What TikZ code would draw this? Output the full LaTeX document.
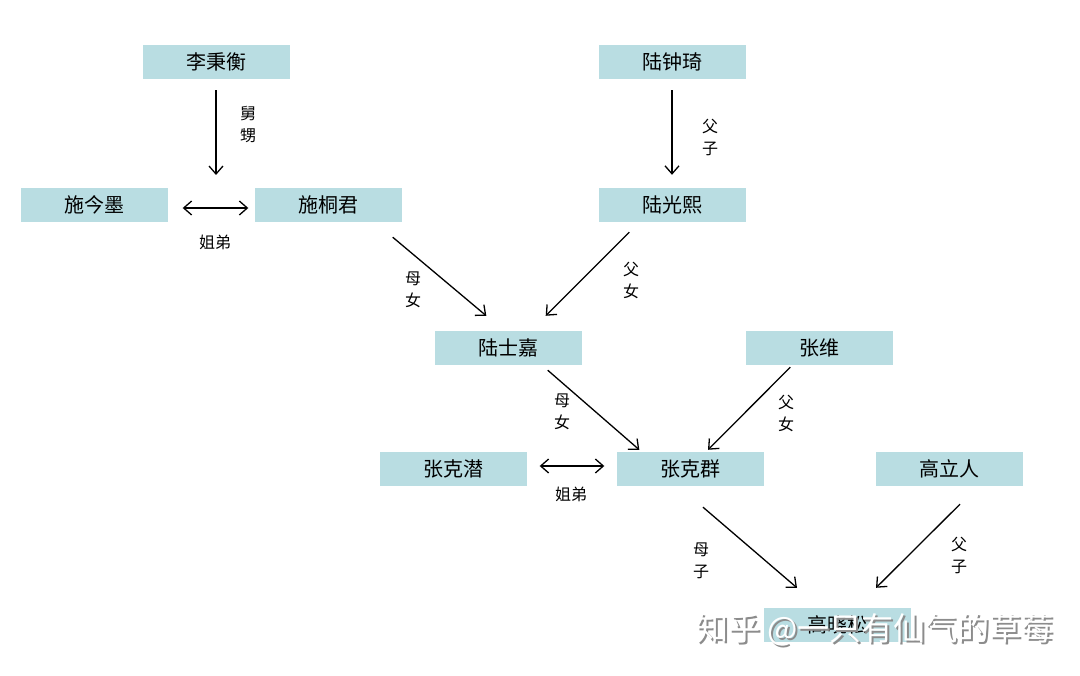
\documentclass[tikz,border=0pt]{standalone}
\usepackage{fontspec}
\newfontfamily\cjk{Noto Sans CJK SC}
\usetikzlibrary{arrows.meta}
\definecolor{boxfill}{RGB}{185,221,226}
\tikzset{
  person/.style={fill=boxfill, draw=none, minimum width=147pt, minimum height=34pt, inner sep=0pt, font=\cjk\fontsize{20}{24}\selectfont},
  rel/.style={font=\cjk\fontsize{16}{22}\selectfont, align=center, inner sep=0pt},
  arr/.style={-{Straight Barb[length=8pt,width=14pt]}, line width=1.3pt},
  darr/.style={{Straight Barb[length=8pt,width=14pt]}-{Straight Barb[length=8pt,width=14pt]}, line width=1.3pt}
}
\begin{document}
\begin{tikzpicture}[x=1pt,y=-1pt]
\useasboundingbox[fill=white] (0,0) rectangle (1080,676);
\node[person] (lbh) at (216,62) {李秉衡};
\node[person] (lzq) at (672,62) {陆钟琦};
\node[person] (sjm) at (94,205) {施今墨};
\node[person] (stj) at (328,205) {施桐君};
\node[person] (lgx) at (672,205) {陆光熙};
\node[person] (lsj) at (508,348) {陆士嘉};
\node[person] (zw) at (819,348) {张维};
\node[person] (zkq) at (453,469) {张克潜};
\node[person] (zkg) at (690,469) {张克群};
\node[person] (glr) at (949,469) {高立人};
\node[person] (gxs) at (837,625) {高晓松};
\coordinate (c1) at (216,175);
% connectors
\draw[arr] ([shift={(0,11)}]lbh.south) -- (c1);
\draw[arr] ([shift={(0,11)}]lzq.south) -- ([shift={(0,-13)}]lgx.north);
\draw[darr] ([shift={(15,3)}]sjm.east) -- ([shift={(-6,3)}]stj.west);
\draw[arr] ([shift={(-9,15)}]stj.south east) -- ([shift={(52,-15)}]lsj.north west);
\draw[arr] ([shift={(31,10)}]lgx.south west) -- ([shift={(-36,-15)}]lsj.north east);
\draw[arr] ([shift={(-34,5)}]lsj.south east) -- ([shift={(23,-2)}]zkg.north west);
\draw[arr] ([shift={(45,2)}]zw.south west) -- ([shift={(18,-2)}]zkg.north);
\draw[darr] ([shift={(13,-3)}]zkq.east) -- ([shift={(-12,-3)}]zkg.west);
\draw[arr] ([shift={(13,21)}]zkg.south) -- ([shift={(-40,-20)}]gxs.north);
\draw[arr] ([shift={(11,18)}]glr.south) -- ([shift={(39,-20)}]gxs.north);
% labels
\node[rel] (l1) at (248,125) {舅\\甥};
\node[rel] (l2) at (710,137) {父\\子};
\node[rel] (l3) at (215,242) {姐弟};
\node[rel] (l4) at (413,290) {母\\女};
\node[rel] (l5) at (631,280) {父\\女};
\node[rel] (l6) at (562,412) {母\\女};
\node[rel] (l7) at (786,413) {父\\女};
\node[rel] (l8) at (571,494) {姐弟};
\node[rel] (l9) at (701,561) {母\\子};
\node[rel] (l10) at (959,555) {父\\子};
% watermark
\node[font=\cjk\fontsize{32}{36}\selectfont, text=black!45, inner sep=0pt] (wms) at (877,632) {知乎 @一只有仙气的草莓};
\node[font=\cjk\fontsize{32}{36}\selectfont, text=white, inner sep=0pt] (wm) at (875,630) {知乎 @一只有仙气的草莓};
\end{tikzpicture}
\end{document}
